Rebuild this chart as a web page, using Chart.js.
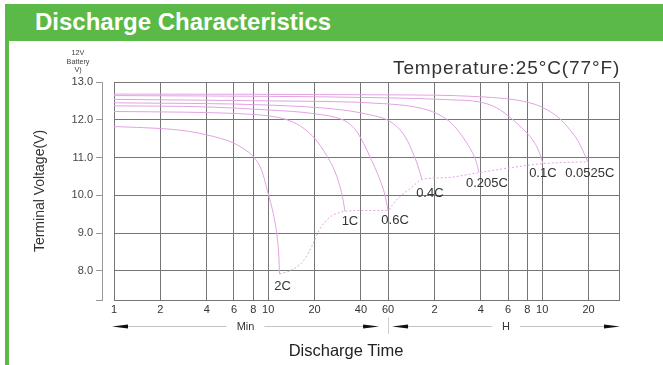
<!DOCTYPE html>
<html><head><meta charset="utf-8">
<script src="https://cdn.jsdelivr.net/npm/chart.js@4/dist/chart.umd.min.js"></script>
<style>
html,body{margin:0;padding:0;background:#fff;width:663px;height:365px;overflow:hidden;font-family:"Liberation Sans",Arial,sans-serif;}
#wrap{position:relative;width:663px;height:365px;}
#hdr{position:absolute;left:5px;top:4px;width:658px;height:37px;background:#5bb947;}
#hdr span{position:absolute;left:30px;top:6px;color:#fff;font-weight:bold;font-size:24px;line-height:24px;white-space:nowrap;}
#lb{position:absolute;left:5px;top:41px;width:4px;height:324px;background:#5bb947;}
canvas{position:absolute;left:0;top:0;}
#temp{position:absolute;left:393px;top:58px;font-size:19px;line-height:19px;color:#333;letter-spacing:0.9px;white-space:nowrap;}
#bat{position:absolute;left:58px;top:49px;width:40px;text-align:center;font-size:7.2px;line-height:8.5px;color:#444;}
#xt{position:absolute;left:246px;top:342px;width:200px;text-align:center;font-size:16.5px;line-height:16px;color:#222;white-space:nowrap;}
</style></head>
<body><div id="wrap">
<div id="hdr"><span>Discharge Characteristics</span></div>
<div id="lb"></div>
<canvas id="c" width="663" height="365"></canvas>
<div id="temp">Temperature:25°C(77°F)</div>
<div id="bat">12V<br>Battery<br>V)</div>
<div id="xt">Discharge Time</div>
</div>
<script>
// ---- data (time in minutes, voltage in V) ----
const seriesNames = ['2C','1C','0.6C','0.4C','0.205C','0.1C','0.0525C'];
const t_2C = [1,2,3,4,5,6,7,8,9.1,10,10.75,11.4,11.75,11.85];
const v_2C = [11.82,11.77,11.7,11.6,11.5,11.38,11.22,11.03,10.65,10.05,9.55,8.95,8.35,7.92];
const t_1C = [1,3,5,8,11,13.9,16.8,20.1,24,27.9,30.6,31.5];
const v_1C = [12.22,12.2,12.18,12.14,12.08,11.97,11.79,11.5,11.05,10.5,9.89,9.58];
const t_06C = [1,4,10,20,30.5,34.3,38,45.7,53,57.1,60];
const v_06C = [12.37,12.34,12.26,12.16,12.0,11.87,11.66,11.03,10.42,10.03,9.6];
const t_04C = [1,10,30.5,45.7,59,71.6,80.8,86.8,93.6,99.4];
const v_04C = [12.45,12.39,12.26,12.13,12.0,11.74,11.42,11.13,10.79,10.42];
const t_0205C = [1,10,59.7,117,150.6,174.8,197.5,212.6,225.8,233];
const v_0205C = [12.54,12.5,12.42,12.21,11.95,11.66,11.34,11.11,10.84,10.61];
const t_01C = [1,10,60,151,236,303,380,454,520,569,606];
const v_01C = [12.64,12.62,12.58,12.53,12.47,12.32,12.03,11.74,11.47,11.18,10.84];
const t_00525C = [1,59.7,236,498,649,780,906,1021,1102,1186];
const v_00525C = [12.68,12.66,12.61,12.45,12.26,12.03,11.74,11.45,11.18,10.89];
const t_end = [11.85,13.8,16.8,19.2,21.6,25.1,29.2,31.5,45,60,64,72,87,99.4,144,233,387,606,1186];
const v_end = [7.92,8.0,8.25,8.65,9.1,9.42,9.55,9.58,9.6,9.6,9.75,9.97,10.24,10.42,10.47,10.6,10.74,10.84,10.89];
const xTickValues = [1,2,4,6,8,10,20,40,60,120,240,360,480,600,1200];
const xTickLabels = ['1','2','4','6','8','10','20','40','60','2','4','6','8','10','20'];
const yTickValues = [8,9,10,11,12,13];
const X_MIN = 1, X_MAX = 1890, Y_MIN = 7.23, Y_MAX = 13;

const times = [t_2C,t_1C,t_06C,t_04C,t_0205C,t_01C,t_00525C];
const volts = [v_2C,v_1C,v_06C,v_04C,v_0205C,v_01C,v_00525C];

// ---- styles ----
const FONT = '"Liberation Sans", Arial, sans-serif';
const CURVE = '#e2a2e2';
const GRID = '#767676';
const LABEL_OFFSETS = [[3,12],[5,10],[7,10],[8,14],[8,11],[0,10],[2,12]];

const datasets = times.map((ts,i)=>({
  label: seriesNames[i],
  data: ts.map((t,j)=>({x:t,y:volts[i][j]})),
  borderColor: CURVE, borderWidth: 1, pointRadius: 0, fill:false,
  cubicInterpolationMode:'monotone'
}));
datasets.push({
  label:'end', data: t_end.map((t,j)=>({x:t,y:v_end[j]})),
  borderColor: CURVE, borderWidth: 1, borderDash:[2,2], pointRadius:0, fill:false,
  cubicInterpolationMode:'monotone'
});

const labelPlugin = {
  id:'curveLabels',
  afterDatasetsDraw(chart){
    const {ctx, scales:{x,y}} = chart;
    ctx.save();
    ctx.font = '13px ' + FONT; ctx.fillStyle = '#333';
    ctx.textAlign = 'center'; ctx.textBaseline = 'middle';
    seriesNames.forEach((n,i)=>{
      const ts = times[i], vs = volts[i];
      const px = x.getPixelForValue(ts[ts.length-1]) + LABEL_OFFSETS[i][0];
      const py = y.getPixelForValue(vs[vs.length-1]) + LABEL_OFFSETS[i][1];
      ctx.fillText(n, px, py);
    });
    ctx.restore();
  }
};

function arrowSeg(ctx, a, b, yy, text){
  ctx.strokeStyle = '#c4c4c4'; ctx.lineWidth = 1;
  ctx.font = '11px ' + FONT;
  const mid = (a+b)/2, w = ctx.measureText(text).width/2 + 10;
  ctx.beginPath();
  ctx.moveTo(a+10, yy+0.5); ctx.lineTo(mid-w, yy+0.5);
  ctx.moveTo(mid+w, yy+0.5); ctx.lineTo(b-10, yy+0.5);
  ctx.stroke();
  ctx.fillStyle = '#111';
  ctx.beginPath(); ctx.moveTo(a, yy+0.5); ctx.lineTo(a+16, yy-1.6); ctx.lineTo(a+16, yy+2.6); ctx.closePath(); ctx.fill();
  ctx.beginPath(); ctx.moveTo(b, yy+0.5); ctx.lineTo(b-16, yy-1.6); ctx.lineTo(b-16, yy+2.6); ctx.closePath(); ctx.fill();
  ctx.fillStyle = '#333'; ctx.textAlign='center'; ctx.textBaseline='middle';
  ctx.fillText(text, mid, yy+1);
}

const arrowPlugin = {
  id:'unitArrows',
  afterDraw(chart){
    const {ctx, scales:{x}} = chart;
    const yy = x.top + 26;
    const x1 = x.getPixelForValue(1), xm = x.getPixelForValue(60), x2 = x.getPixelForValue(X_MAX);
    ctx.save();
    arrowSeg(ctx, x1-2, xm-9, yy, 'Min');
    arrowSeg(ctx, xm+4, x2+1, yy, 'H');
    ctx.strokeStyle = '#cfcfcf'; ctx.lineWidth = 1;
    ctx.beginPath(); ctx.moveTo(Math.round(xm)+0.5, yy-9); ctx.lineTo(Math.round(xm)+0.5, yy+8); ctx.stroke();
    ctx.restore();
  }
};

new Chart(document.getElementById('c'), {
  type:'line',
  data:{datasets},
  options:{
    responsive:false, animation:false, devicePixelRatio:1,
    layout:{padding:{left:0,right:44,top:82,bottom:0}},
    plugins:{legend:{display:false}, tooltip:{enabled:false}},
    scales:{
      x:{
        type:'logarithmic', min:X_MIN, max:X_MAX, position:'bottom',
        afterFit:(s)=>{ s.height = 65; },
        afterBuildTicks:(s)=>{ s.ticks = xTickValues.concat([X_MAX]).map(v=>({value:v})); },
        ticks:{autoSkip:false, maxRotation:0, minRotation:0, padding:3, color:'#333',
          font:{family:FONT, size:11},
          callback:(v,i)=> i < xTickLabels.length ? xTickLabels[i] : ''},
        grid:{color:GRID, lineWidth:1, drawTicks:false},
        border:{color:GRID, width:1}
      },
      y:{
        type:'linear', min:Y_MIN, max:Y_MAX, position:'left', weight:0,
        afterFit:(s)=>{ s.width = 12; },
        afterBuildTicks:(s)=>{ s.ticks = yTickValues.map(v=>({value:v})); },
        ticks:{display:false},
        grid:{color:GRID, lineWidth:1, drawTicks:true, tickLength:12, tickColor:'rgba(0,0,0,0)'},
        border:{color:GRID, width:1}
      },
      yl:{
        type:'linear', min:Y_MIN, max:Y_MAX, position:'left', weight:1,
        afterFit:(s)=>{ s.width = 102; },
        afterBuildTicks:(s)=>{ s.ticks = [Y_MIN].concat(yTickValues).map(v=>({value:v})); },
        ticks:{padding:3, color:'#444', font:{family:FONT, size:11},
          callback:(v)=> v === Y_MIN ? '' : Number(v).toFixed(1)},
        grid:{drawOnChartArea:false, drawTicks:true, tickLength:6, color:'#999'},
        border:{color:'#999', width:1},
        title:{display:true, text:'Terminal Voltage(V)', color:'#333', font:{family:FONT, size:14}, padding:{top:32,bottom:0}}
      }
    }
  },
  plugins:[labelPlugin, arrowPlugin]
});
</script>
</body></html>
